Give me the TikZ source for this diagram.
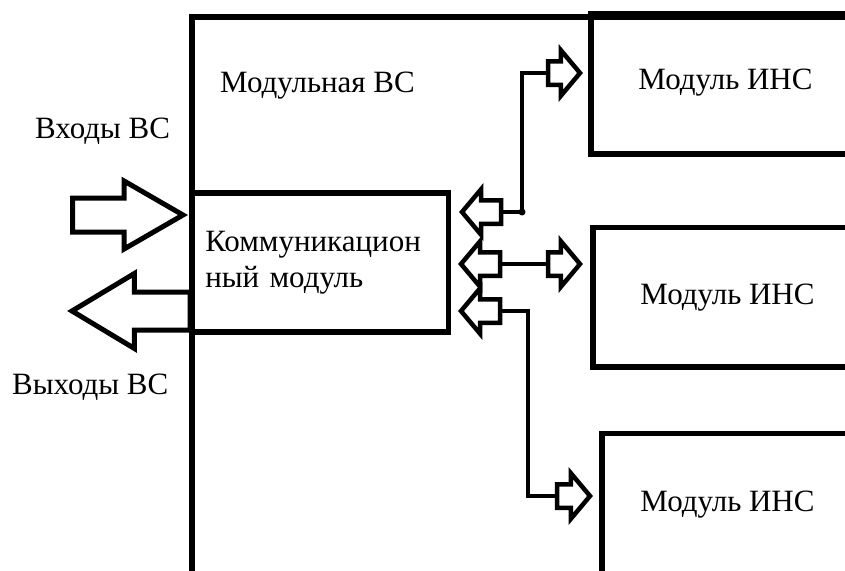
\documentclass[tikz,border=0pt]{standalone}
\usepackage{fontspec}
\setmainfont{Liberation Serif}
\usetikzlibrary{shapes.arrows,positioning}

\tikzset{
  blockbox/.style={draw, rectangle, line width=5.5pt, inner sep=0pt, outer sep=0pt,
    font=\rmfamily\fontsize{31}{36}\selectfont},
  bigarrow/.style={single arrow, draw, line width=5pt, inner xsep=0pt, outer sep=0pt},
  smallarrow/.style={single arrow, draw, line width=4.5pt, inner xsep=0pt, inner ysep=9.5pt,
    outer sep=0pt, single arrow head extend=11pt, single arrow tip angle=100},
  link/.style={line width=4.5pt},
  lbl/.style={font=\rmfamily\fontsize{31}{36}\selectfont, inner sep=0pt, anchor=base west}
}

\begin{document}
\begin{tikzpicture}[x=1pt, y=-1pt]
\useasboundingbox (0,0) rectangle (845,570);
\clip (0,0) rectangle (845,570);

% Modular system frame and its title
\node[blockbox, anchor=north west, minimum width=700pt, minimum height=557pt] (vs) at (192,17) {};
\node[lbl] (vstitle) at (220,92) {Модульная ВС};

% Communication module
\node[blockbox, anchor=north west, minimum width=256.5pt, minimum height=139pt,
      inner xsep=13pt, text width=230pt, align=left] (comm) at (192,193) {Коммуникацион\\ный модуль};

% ANN modules
\node[blockbox, anchor=north west, minimum width=269pt, minimum height=140pt] (ins1) at (591,14) {\raisebox{10pt}{Модуль ИНС}};
\node[blockbox, anchor=north west, minimum width=269pt, minimum height=139.5pt] (ins2) at (593,227.5) {Модуль ИНС};
\node[blockbox, anchor=north west, minimum width=251pt, minimum height=142pt] (ins3) at (602,433.5) {\raisebox{-2pt}{Модуль ИНС}};

% Inputs and outputs
\node[bigarrow, single arrow tip angle=60, inner ysep=14.5pt, single arrow head extend=17pt,
      minimum height=110.5pt, anchor=tip] (inarr) at (183,215) {};
\node[bigarrow, shape border rotate=180, single arrow tip angle=62, inner ysep=16.5pt,
      single arrow head extend=18.5pt, minimum height=118pt, anchor=tip] (outarr) at (72,311) {};
\node[lbl] (inlbl) at (35,138) {Входы ВС};
\node[lbl] (outlbl) at (12,394) {Выходы ВС};

% Bus arrows between the communication module and the ANN modules
\node[smallarrow, shape border rotate=180, minimum height=39pt, anchor=tip] (a1in) at (462,212) {};
\node[smallarrow, minimum height=32pt, anchor=tip] (a1out) at (580,73) {};
\node[smallarrow, shape border rotate=180, minimum height=39pt, anchor=tip] (a2in) at (461,264) {};
\node[smallarrow, minimum height=32pt, anchor=tip] (a2out) at (580,264) {};
\node[smallarrow, shape border rotate=180, minimum height=39pt, anchor=tip] (a3in) at (461,311) {};
\node[smallarrow, minimum height=33pt, anchor=tip] (a3out) at (590,496) {};

\draw[link] (a1in.tail) -- ++(21,0) coordinate (j1) |- (a1out.tail);
\fill (j1) circle (3.5pt);
\draw[link] (a2in.tail) -- (a2out.tail);
\draw[link] (a3in.tail) -- ++(28,0) |- (a3out.tail);
\end{tikzpicture}
\end{document}
